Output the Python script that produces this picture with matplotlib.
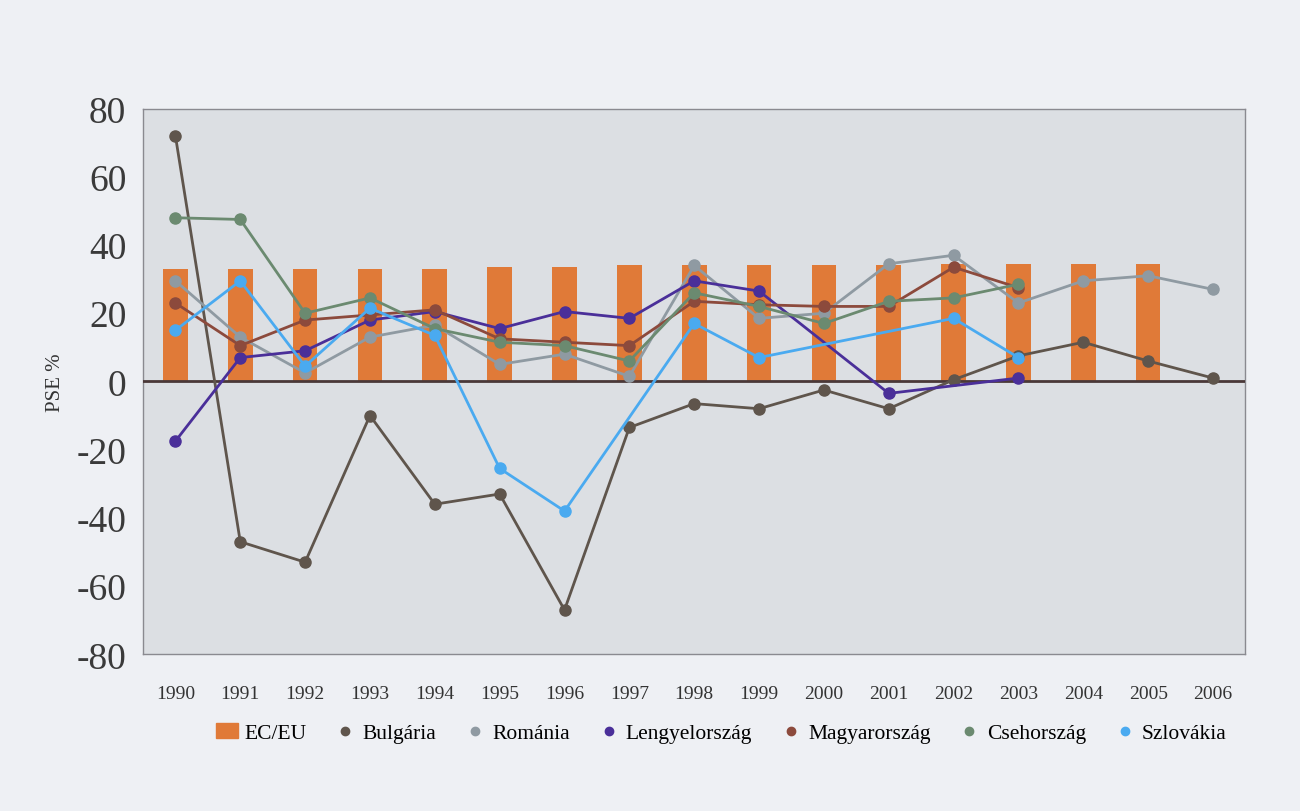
import numpy as np
import matplotlib
matplotlib.use("Agg")
import matplotlib.pyplot as plt
from matplotlib.lines import Line2D
from matplotlib.patches import Patch

years = [str(y) for y in range(1990, 2007)]
nan = np.nan

# EC/EU PSE bars (1990-2005)
eu = [33, 33, 33, 33, 33, 33.5, 33.5, 34, 34, 34, 34, 34, 34.5, 34.5, 34.5, 34.5]

bulgaria = [72, -47, -53, -10, -36, -33, -67, -13.5, -6.5, -8, -2.5, -8, 0.5, 7.5, 11.5, 6, 1]
romania = [29.5, 13, 2.5, 13, 16.5, 5, 8, 1.5, 34, 18.5, 20, 34.5, 37, 23, 29.5, 31, 27]
lengyel = [-17.5, 7, 9, 18, 20.5, 15.5, 20.5, 18.5, 29.5, 26.5, nan, -3.5, nan, 1, nan, nan, nan]
magyar = [23, 10.5, 18, 19.5, 21, 12.5, 11.5, 10.5, 23.5, 22.5, 22, 22, 33.5, 27.5, nan, nan, nan]
cseh = [48, 47.5, 20, 24.5, 15.5, 11.5, 10.5, 6, 26, 22, 17, 23.5, 24.5, 28.5, nan, nan, nan]
szlovak = [15, 29.5, 4.5, 21.5, 13.5, -25.5, -38, nan, 17, 7, nan, nan, 18.5, 7, nan, nan, nan]

series = [
    ("Bulgária", bulgaria, "#5f554c"),
    ("Románia", romania, "#8f9aa2"),
    ("Lengyelország", lengyel, "#4a2f99"),
    ("Magyarország", magyar, "#8c4a3c"),
    ("Csehország", cseh, "#6b8a70"),
    ("Szlovákia", szlovak, "#4aaaf0"),
]

serif = "Liberation Serif"

fig = plt.figure(figsize=(13, 8.12), dpi=100)
fig.patch.set_facecolor("#eef0f4")
ax = fig.add_axes([0.11, 0.193, 0.848, 0.672])
ax.set_facecolor("#dcdfe3")

x = np.arange(len(years))
ax.bar(x[:len(eu)], eu, width=0.38, color="#e07a38", zorder=2)
ax.axhline(0, color="#4a3838", lw=2, zorder=3)

for name, vals, col in series:
    v = np.array(vals, dtype=float)
    m = ~np.isnan(v)
    ax.plot(x[m], v[m], "-o", color=col, lw=2, ms=8, zorder=4)

ax.set_xlim(-0.5, 16.5)
ax.set_ylim(-80, 80)
ax.set_yticks(range(-80, 81, 20))
ax.set_yticklabels([str(t) for t in range(-80, 81, 20)], fontsize=27, family=serif, color="#3a3a3a")
ax.set_xticks(x)
ax.set_xticklabels(years, fontsize=14, family=serif, color="#333333")
ax.tick_params(length=0)
ax.tick_params(axis="y", pad=12)
ax.tick_params(axis="x", pad=22)
ax.set_ylabel("PSE %", fontsize=15, family=serif, color="#333333", labelpad=8)
for s in ax.spines.values():
    s.set_color("#8a8a90")
    s.set_linewidth(1)

handles = [Patch(color="#e07a38", label="EC/EU")]
for name, vals, col in series:
    handles.append(Line2D([], [], marker="o", ls="", color=col, ms=6, label=name))
fig.legend(handles=handles, loc="center", bbox_to_anchor=(0.555, 0.096), ncol=7,
           frameon=False, prop={"family": serif, "size": 15.5}, handlelength=1.0,
           handletextpad=0.3, columnspacing=1.3)

fig.savefig("out.png", dpi=100, facecolor=fig.get_facecolor())
